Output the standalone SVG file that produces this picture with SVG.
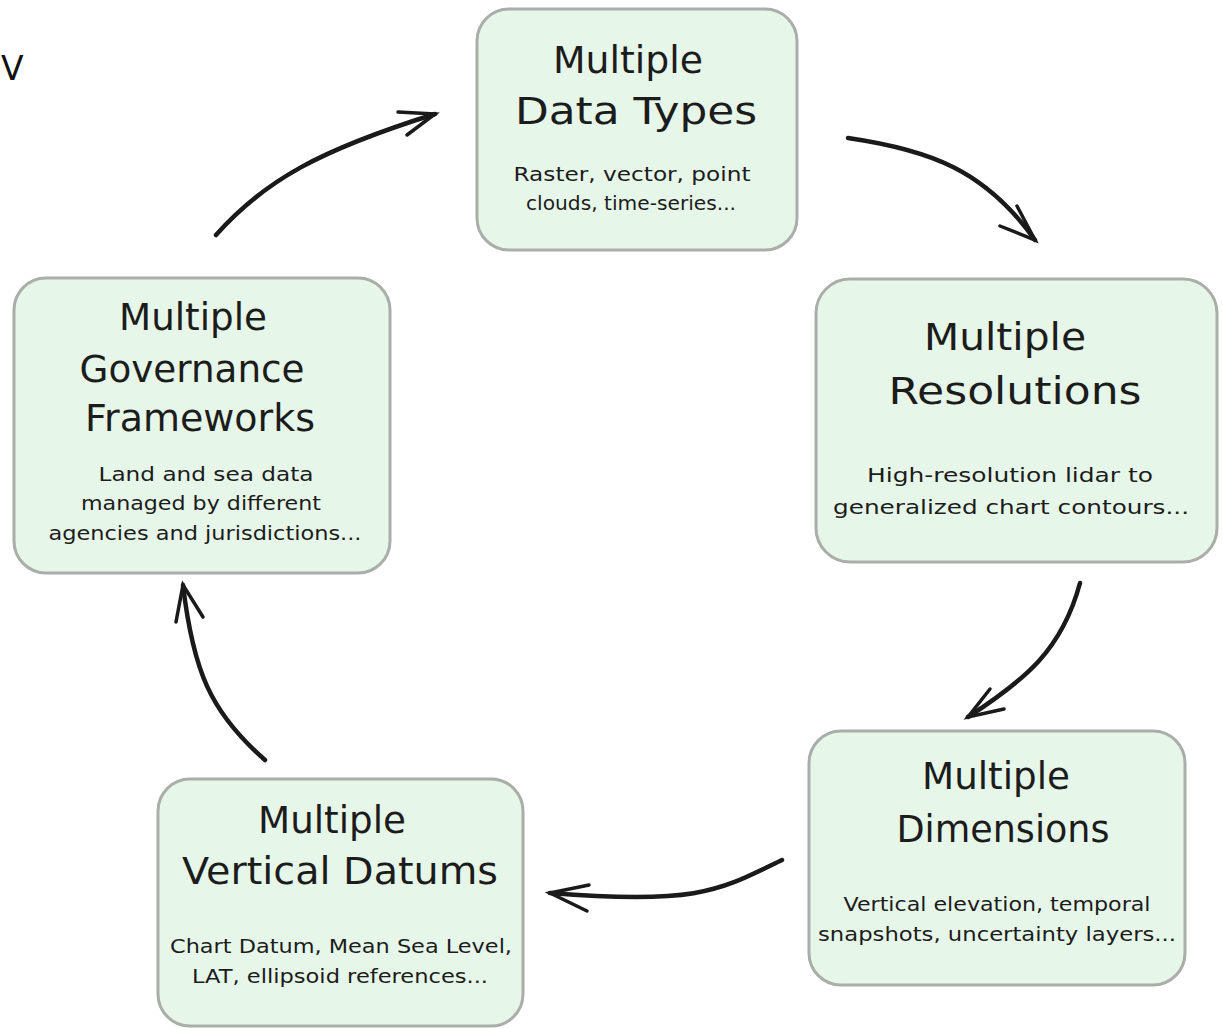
<svg xmlns="http://www.w3.org/2000/svg" width="1223" height="1029" viewBox="0 0 1223 1029">
<defs>
<style>
.box{fill:#e6f6e8;stroke:#a9aea9;stroke-width:3}
.t{font-family:"DejaVu Sans","Noto Sans",sans-serif;font-size:37px;fill:#1c1c1c;text-anchor:middle}
.s{font-family:"DejaVu Sans","Noto Sans",sans-serif;font-size:20px;fill:#1c1c1c;text-anchor:middle}
.c{fill:none;stroke:#1a1a1a;stroke-width:4.5;stroke-linecap:round;stroke-linejoin:round}
.h{fill:none;stroke:#1a1a1a;stroke-width:3.5;stroke-linecap:round}
</style>
</defs>
<rect width="1223" height="1029" fill="#ffffff"/>
<text x="1" y="80" font-family="'DejaVu Sans', sans-serif" font-size="33" fill="#111">V</text>

<g id="node-data-types">
<rect class="box" x="477" y="9" width="320" height="241" rx="32"/>
<text class="t" x="628" y="73" textLength="150" lengthAdjust="spacingAndGlyphs">Multiple</text>
<text class="t" x="636" y="124" textLength="242" lengthAdjust="spacingAndGlyphs">Data Types</text>
<text class="s" x="632" y="181" textLength="237" lengthAdjust="spacingAndGlyphs">Raster, vector, point</text>
<text class="s" x="631" y="210" textLength="210" lengthAdjust="spacingAndGlyphs">clouds, time-series...</text>
</g>

<g id="node-resolutions">
<rect class="box" x="816" y="279" width="401" height="283" rx="34"/>
<text class="t" x="1005" y="350" textLength="162" lengthAdjust="spacingAndGlyphs">Multiple</text>
<text class="t" x="1015" y="404" textLength="253" lengthAdjust="spacingAndGlyphs">Resolutions</text>
<text class="s" x="1010" y="482" textLength="286" lengthAdjust="spacingAndGlyphs">High-resolution lidar to</text>
<text class="s" x="1011" y="514" textLength="356" lengthAdjust="spacingAndGlyphs">generalized chart contours...</text>
</g>

<g id="node-dimensions">
<rect class="box" x="809" y="731" width="376" height="254" rx="32"/>
<text class="t" x="996" y="789" textLength="148" lengthAdjust="spacingAndGlyphs">Multiple</text>
<text class="t" x="1003" y="842" textLength="213" lengthAdjust="spacingAndGlyphs">Dimensions</text>
<text class="s" x="997" y="911" textLength="307" lengthAdjust="spacingAndGlyphs">Vertical elevation, temporal</text>
<text class="s" x="997" y="941" textLength="358" lengthAdjust="spacingAndGlyphs">snapshots, uncertainty layers...</text>
</g>

<g id="node-vertical-datums">
<rect class="box" x="158" y="779" width="365" height="247" rx="32"/>
<text class="t" x="332" y="833" textLength="148" lengthAdjust="spacingAndGlyphs">Multiple</text>
<text class="t" x="340" y="884" textLength="316" lengthAdjust="spacingAndGlyphs">Vertical Datums</text>
<text class="s" x="341" y="953" textLength="342" lengthAdjust="spacingAndGlyphs">Chart Datum, Mean Sea Level,</text>
<text class="s" x="340" y="983" textLength="296" lengthAdjust="spacingAndGlyphs">LAT, ellipsoid references...</text>
</g>

<g id="node-governance">
<rect class="box" x="14" y="278" width="376" height="295" rx="32"/>
<text class="t" x="193" y="330" textLength="148" lengthAdjust="spacingAndGlyphs">Multiple</text>
<text class="t" x="192" y="382" textLength="225" lengthAdjust="spacingAndGlyphs">Governance</text>
<text class="t" x="200" y="431" textLength="230" lengthAdjust="spacingAndGlyphs">Frameworks</text>
<text class="s" x="206" y="481" textLength="215" lengthAdjust="spacingAndGlyphs">Land and sea data</text>
<text class="s" x="201" y="510" textLength="240" lengthAdjust="spacingAndGlyphs">managed by different</text>
<text class="s" x="205" y="540" textLength="313" lengthAdjust="spacingAndGlyphs">agencies and jurisdictions...</text>
</g>

<g id="connectors">
<path class="c" d="M216,235 C265,180 320,150 435,114"/>
<path class="h" d="M398,112 L435,114 L407,135"/>
<path class="c" d="M848,138 C930,150 985,170 1035,240"/>
<path class="h" d="M1017,206 L1035,240 L1000,226"/>
<path class="c" d="M1080,583 C1062,650 1025,680 968,717"/>
<path class="h" d="M990,689 L968,717 L1004,709"/>
<path class="c" d="M782,860 C720,890 700,905 550,893"/>
<path class="h" d="M589,885 L550,893 L587,911"/>
<path class="c" d="M265,760 C210,712 193,670 183,585"/>
<path class="h" d="M176,622 L183,585 L203,617"/>
</g>
</svg>
